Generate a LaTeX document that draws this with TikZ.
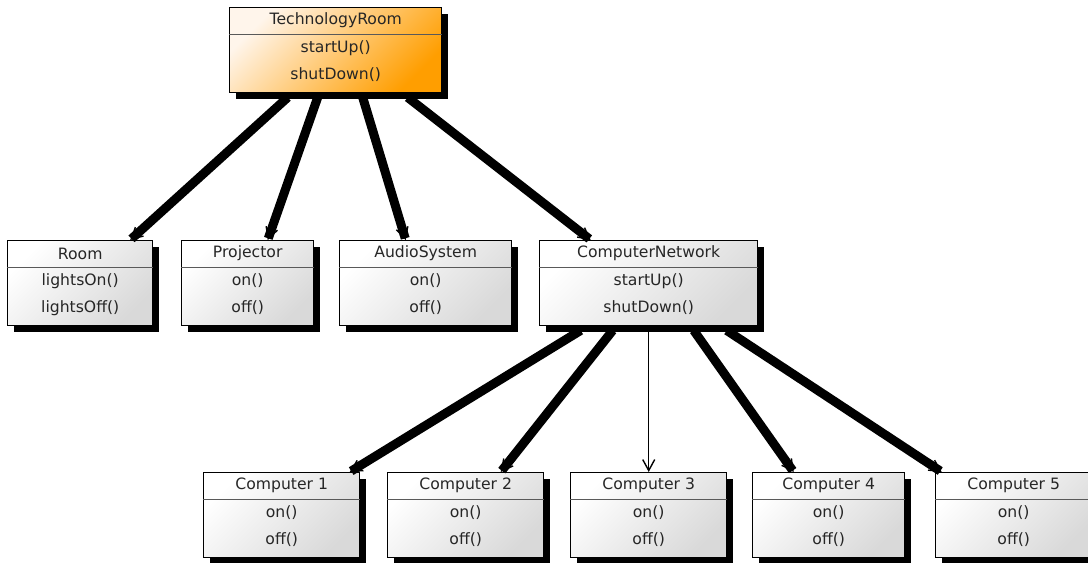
\documentclass[tikz,border=0pt]{standalone}
\usepackage{fontspec}
\setmainfont{DejaVu Sans}
\usetikzlibrary{arrows.meta,shadows,calc}
\definecolor{classorange}{RGB}{255,158,0}
\tikzset{
  classbox/.style={draw=black, line width=0.8pt, inner sep=0pt, anchor=north west,
    minimum height=85*0.02cm, top color=white, bottom color=black!15, shading angle=45,
    drop shadow={fill=black, opacity=1, shadow xshift=0.12cm, shadow yshift=-0.13cm}},
  hotbox/.style={top color=orange!8, bottom color=classorange, shading angle=45},
  classtext/.style={font=\fontsize{8.9}{10}\selectfont, inner sep=0pt, text=black!85},
  thinlink/.style={draw=black, line width=0.8pt, -{Straight Barb[length=0.22cm,width=0.24cm]}},
  link/.style={thinlink, preaction={draw, line width=0.18cm, arrows=-, shorten >=1pt}}
}
\newcommand{\umlclass}[8][]{%
  \node[classbox, minimum width=#5*0.02cm, #1] (#2) at (#3,#4) {};
  \draw[black!65] ($(#2.north west)+(0,27)$) -- ($(#2.north east)+(0,27)$);
  \node[classtext] (#2-t) at ($(#2.north)+(0,13.5)$) {#6};
  \node[classtext] (#2-a) at ($(#2.north)+(0,41)$) {#7};
  \node[classtext] (#2-b) at ($(#2.north)+(0,68)$) {#8};
}

\begin{document}
\begin{tikzpicture}[x=0.02cm, y=-0.02cm]
      \useasboundingbox (0,0) rectangle (1088,562);
      \umlclass[hotbox]{troom}{229}{7}{212}{TechnologyRoom}{startUp()}{shutDown()}
      \umlclass{room}{7}{240}{145}{Room}{lightsOn()}{lightsOff()}
      \umlclass{projector}{181}{240}{132}{Projector}{on()}{off()}
      \umlclass{audio}{339}{240}{172}{AudioSystem}{on()}{off()}
      \umlclass{network}{539}{240}{218}{ComputerNetwork}{startUp()}{shutDown()}
      \umlclass{comp1}{203}{472}{156}{Computer 1}{on()}{off()}
      \umlclass{comp2}{387}{472}{156}{Computer 2}{on()}{off()}
      \umlclass{comp3}{570}{472}{156}{Computer 3}{on()}{off()}
      \umlclass{comp4}{752}{472}{152}{Computer 4}{on()}{off()}
      \umlclass{comp5}{935}{472}{156}{Computer 5}{on()}{off()}
      \draw[link] ($(troom.south)+(-48,4)$) -- ($(room.north)+(50,0)$);
      \draw[link] ($(troom.south)+(-18,4)$) -- ($(projector.north)+(20,0)$);
      \draw[link] ($(troom.south)+(27,4)$) -- ($(audio.north)+(-20,0)$);
      \draw[link] ($(troom.south)+(72,4)$) -- ($(network.north)+(-58,0)$);
      \draw[link] ($(network.south)+(-68,4)$) -- ($(comp1.north)+(68,0)$);
      \draw[link] ($(network.south)+(-36,4)$) -- ($(comp2.north)+(35,0)$);
      \draw[thinlink] (network.south) -- (comp3.north);
      \draw[link] ($(network.south)+(45,4)$) -- ($(comp4.north)+(-35,0)$);
      \draw[link] ($(network.south)+(78,4)$) -- ($(comp5.north)+(-72,0)$);
    \end{tikzpicture}
\end{document}
